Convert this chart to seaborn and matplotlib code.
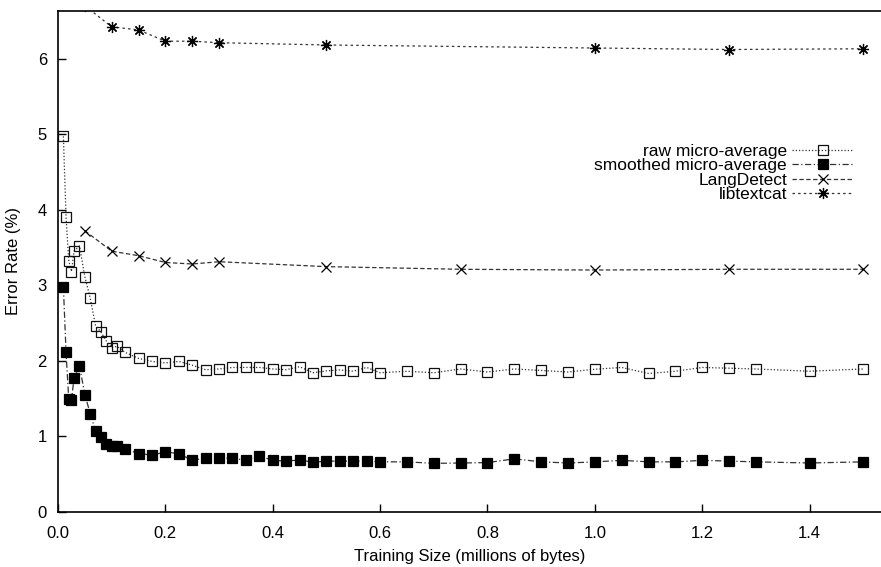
import pandas as pd
import matplotlib
matplotlib.use('Agg')
import matplotlib.pyplot as plt
import seaborn as sns

# Training sizes (millions of bytes) for the micro-average runs
size_x = [0.01, 0.015, 0.02, 0.025, 0.03, 0.04, 0.05, 0.06, 0.07, 0.08, 0.09, 0.10, 0.11, 0.125,
          0.15, 0.175, 0.2, 0.225, 0.25, 0.275, 0.3, 0.325, 0.35, 0.375, 0.4, 0.425,
          0.45, 0.475, 0.5, 0.525, 0.55, 0.575, 0.6,
          0.65, 0.7, 0.75, 0.8, 0.85, 0.9, 0.95, 1.0, 1.05, 1.1, 1.15, 1.2, 1.25, 1.3,
          1.4, 1.5]

raw_micro = [4.97, 3.90, 3.32, 3.18, 3.45, 3.52, 3.11, 2.83, 2.46, 2.38, 2.26, 2.17, 2.19, 2.11,
             2.03, 1.99, 1.97, 1.99, 1.94, 1.88, 1.89, 1.91, 1.91, 1.91, 1.89, 1.88,
             1.92, 1.84, 1.865, 1.877, 1.86, 1.91, 1.84,
             1.86, 1.84, 1.89, 1.85, 1.89, 1.87, 1.85, 1.886, 1.91, 1.83, 1.86, 1.91, 1.90, 1.89,
             1.86, 1.89]

smoothed_micro = [2.98, 2.11, 1.49, 1.48, 1.77, 1.93, 1.55, 1.30, 1.07, 0.99, 0.90, 0.87, 0.87, 0.83,
                  0.77, 0.75, 0.79, 0.77, 0.68, 0.71, 0.71, 0.71, 0.68, 0.74, 0.68, 0.67,
                  0.685, 0.655, 0.67, 0.67, 0.67, 0.67, 0.66,
                  0.66, 0.64, 0.645, 0.65, 0.70, 0.66, 0.645, 0.66, 0.68, 0.66, 0.66, 0.68, 0.67, 0.66,
                  0.645, 0.66]

# Baseline tools
langdetect_x = [0.05, 0.1, 0.15, 0.2, 0.25, 0.3, 0.5, 0.75, 1.0, 1.25, 1.5]
langdetect_y = [3.72, 3.45, 3.39, 3.30, 3.28, 3.31, 3.245, 3.21, 3.20, 3.21, 3.21]

libtextcat_x = [0.05, 0.1, 0.15, 0.2, 0.25, 0.3, 0.5, 1.0, 1.25, 1.5]
libtextcat_y = [6.70, 6.42, 6.38, 6.23, 6.23, 6.21, 6.18, 6.14, 6.12, 6.13]

x_ticks = [0.0, 0.2, 0.4, 0.6, 0.8, 1.0, 1.2, 1.4]
y_ticks = [0, 1, 2, 3, 4, 5, 6]

sns.set_style('ticks')
plt.rcParams['font.family'] = ['Liberation Sans', 'DejaVu Sans']
plt.rcParams['font.size'] = 12
plt.rcParams['text.color'] = 'black'
plt.rcParams['axes.labelcolor'] = 'black'
plt.rcParams['xtick.color'] = 'black'
plt.rcParams['ytick.color'] = 'black'

fig = plt.figure(figsize=(8.81, 5.67), dpi=100)
ax = fig.add_axes([58 / 881, 1 - 511.7 / 567, (881 - 58) / 881, (511.7 - 11) / 567])

line_col = '#333333'

sns.lineplot(x=size_x, y=raw_micro, ax=ax, sort=False, color=line_col, lw=0.9,
             linestyle=(0, (1, 1.6)), marker='s', markersize=7.5,
             markerfacecolor='none', markeredgecolor='#111111', markeredgewidth=0.9,
             label='raw micro-average')
sns.lineplot(x=size_x, y=smoothed_micro, ax=ax, sort=False, color=line_col, lw=0.9,
             linestyle=(0, (5, 2, 1, 2)), marker='s', markersize=7.5,
             markerfacecolor='black', markeredgecolor='black', markeredgewidth=0.9,
             label='smoothed micro-average')
sns.lineplot(x=langdetect_x, y=langdetect_y, ax=ax, sort=False, color=line_col, lw=0.9,
             linestyle=(0, (3.5, 2)), marker='x', markersize=7,
             markeredgecolor='black', markeredgewidth=0.9,
             label='LangDetect')
sns.lineplot(x=libtextcat_x, y=libtextcat_y, ax=ax, sort=False, color=line_col, lw=0.9,
             linestyle=(0, (2, 2.5)), marker=(8, 2, 0), markersize=8,
             markeredgecolor='black', markeredgewidth=0.9,
             label='libtextcat')

ax.set_xlim(0, 1.533)
ax.set_ylim(0, 6.63)
ax.set_xticks(x_ticks)
ax.set_xticklabels([f'{t:.1f}' for t in x_ticks])
ax.set_yticks(y_ticks)
ax.set_yticklabels([str(t) for t in y_ticks])
ax.tick_params(direction='in', length=6, width=1, color='black', labelcolor='black', labelsize=12)
ax.tick_params(axis='x', pad=10)
ax.tick_params(axis='y', pad=8)
for side in ['left', 'bottom', 'top']:
    ax.spines[side].set_color('black')
    ax.spines[side].set_linewidth(1.2)
ax.spines['right'].set_visible(False)

ax.set_xlabel('Training Size (millions of bytes)', fontsize=12, labelpad=6)
ax.set_ylabel('Error Rate (%)', fontsize=12, labelpad=12)

ax.legend(loc='upper right', bbox_to_anchor=(853 / 881, 1 - 144 / 567),
          bbox_transform=fig.transFigure, frameon=False, markerfirst=False,
          borderpad=0, borderaxespad=0, handlelength=3.5, handletextpad=0.3,
          labelspacing=-0.05, fontsize=12.5)

fig.savefig('out.png', dpi=100)
